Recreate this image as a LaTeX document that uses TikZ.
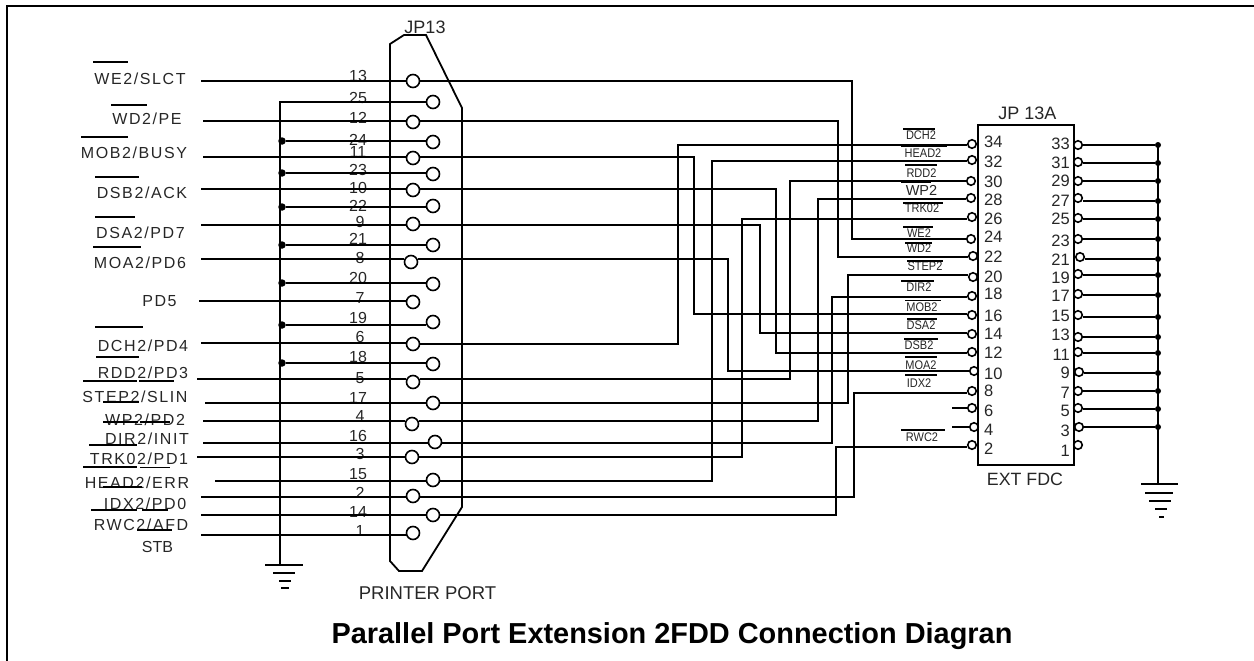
\documentclass[tikz,border=0pt]{standalone}
\usepackage{fontspec}
\setmainfont{Liberation Sans}
\newfontfamily\spaced[LetterSpace=10]{Liberation Sans}
\tikzset{
  wire/.style={line width=2pt,line cap=butt,line join=miter},
  barline/.style={line width=1.8pt},
  shell/.style={line width=1.8pt,line join=miter},
  bigpin/.style={circle,draw,line width=1.6pt,inner sep=0pt,minimum size=13pt,fill=white},
  smallpin/.style={circle,draw,line width=1.6pt,inner sep=0pt,minimum size=8.5pt,fill=white},
  joint/.style={circle,fill=black,inner sep=0pt,minimum size=7.5pt},
  num/.style={inner sep=0pt,font=\fontsize{16}{17}\selectfont,text=black!85},
  sig/.style={inner sep=0pt,font=\fontsize{16}{17}\selectfont\spaced,text=black!85},
  small/.style={inner sep=0pt,font=\fontsize{12.5}{13}\selectfont,text=black!85},
}
\newcommand{\route}[5]{\draw[wire] (#1.east |- 0,#2) -- (#3,#2) -- (#3,#4) -- (#5.west |- 0,#4);}
\begin{document}
\begin{tikzpicture}[x=1pt,y=-1pt]
\useasboundingbox (0,0) rectangle (1254,661);
% frame
\draw[line width=2.4pt] (7,661) -- (7,6) -- (1254,6);
% DB25 shell
\draw[shell] (390,44) -- (404,35) -- (426,35) -- (462,108) -- (462,507) -- (422,571) -- (399,571) -- (390,561) -- cycle;
\node[num,font=\fontsize{18}{19}\selectfont] (jp13) at (425,27) {JP13};
\node[num,font=\fontsize{18.5}{20}\selectfont] (pport) at (427.5,593) {PRINTER PORT};
\node[inner sep=0pt,font=\fontsize{28.9}{30}\bfseries\selectfont] (title) at (672,636) {Parallel Port Extension 2FDD Connection Diagran};
% left connector pins
\foreach \n/\x/\y/\lx/\ly in {13/413/81/358/76,25/433/102/358/98,12/413/122/358/118,24/433/142/358/140,11/413/158/358/152,23/433/174/358/170,10/413/190/358/188,22/433/206/358/206,9/413/224/360/222,21/433/245/358/239,8/411/262/360/258,20/433/284/358/278,7/413/302/360/298,19/433/322/358/318,6/413/344/360/337,18/433/364/358/357,5/413/382/360/378,17/433/403/358/398,4/412/424/360/416,16/435/442/358/436,3/412/457/360/454,15/433/480/358/474,2/413/496/360/493,14/433/515/358/512,1/413/533/360/531}{
  \node[bigpin] (L\n) at (\x,\y) {};
  \node[num] (Ln\n) at (\lx,\ly) {\n};
}
% left free ends
\foreach \n/\x/\y in {13/201/81,12/203/121,11/203/157,10/201/189,9/201/225,8/201/259,7/199/301,6/201/343,5/197/379,17/205/403,4/203/421,16/203/443,3/197/457,15/215/481,2/201/497,14/201/515,1/201/535}{
  \coordinate (a\n) at (\x,\y);
  \draw[wire] (a\n) -- (L\n.west |- a\n);
}
% ground bus left
\coordinate (gt) at (280,102);
\coordinate (gl) at (280,565);
\draw[wire] (L25.west |- gt) -- (gt) -- (gl);
\foreach \n/\y in {24/141,23/173,22/207,21/245,20/283,19/325,18/363}{
  \node[joint] (d\n) at (282,\y) {};
  \draw[wire] (d\n) -- (L\n.west |- d\n);
}
\foreach \a/\b/\y in {265/303/565,273/295/573,279/291/581,281/289/588}{
  \draw[wire] (\a,\y) -- (\b,\y);
}
% right connector pins, left column
\foreach \n/\x/\y/\ly in {34/972/144/142,32/972/160/161.5,30/971/181/181.5,28/971/198/199.5,26/972/217/219,24/971/239/237,22/973/256/257,20/973/277/277,18/972/296/294,16/972/315/316,14/972/334/334,12/972/352/353,10/974/371/373.5,8/972/391/391,6/972/408/411,4/974/427/429.5,2/972/445/449}{
  \node[smallpin] (R\n) at (\x,\y) {};
  \node[num,font=\fontsize{16.5}{17}\selectfont,anchor=west] (Rn\n) at (984,\ly) {\n};
}
% right connector box
\draw[wire] (978,125) rectangle (1074,465);
\node[num,font=\fontsize{18}{19}\selectfont] (jp13a) at (1027.5,113) {JP 13A};
\node[num,font=\fontsize{17.8}{19}\selectfont] (extfdc) at (1025,479) {EXT FDC};
% right column
\coordinate (gbt) at (1158,143);
\coordinate (gbb) at (1158,484);
\draw[wire] (gbt) -- (gbb);
\foreach \n/\x/\y/\ly/\wy in {33/1078/145/144/145,31/1078/162/163/163,29/1078/181/181/181,27/1078/198/201/201,25/1078/218/219/219,23/1078/239/241/239,21/1080/257/260/259,19/1078/274/278/275,17/1078/294/296/295,15/1078/315/316/317,13/1078/337/335/337,11/1078/352/355/353,9/1079/372/373/373,7/1078/391/393/391,5/1078/408/411/409,3/1079/427/431/427}{
  \node[smallpin] (R\n) at (\x,\y) {};
  \node[num,font=\fontsize{16.5}{17}\selectfont,anchor=east] (Rn\n) at (1070,\ly) {\n};
  \node[joint,minimum size=6pt] (e\n) at (1158,\wy) {};
  \draw[wire] (R\n.east |- e\n) -- (e\n);
}
\node[smallpin] (R1) at (1078,445) {};
\node[num,font=\fontsize{16.5}{17}\selectfont,anchor=east] (Rn1) at (1070,451) {1};
\foreach \a/\b/\y in {1141/1178/484,1145/1173/493,1149/1171/501,1155/1167/509,1159/1164/517}{
  \draw[wire] (\a,\y) -- (\b,\y);
}
% stubs for unused pins
\coordinate (s6) at (952,408);
\coordinate (s4) at (952,427);
\draw[wire] (s6) -- (R6.west);
\draw[wire] (s4) -- (R4.west);
% routed wires
\route{L13}{81}{852}{239}{R24}
\route{L12}{121}{838}{257}{R22}
\route{L11}{157}{694}{314}{R16}
\route{L10}{189}{776}{353}{R12}
\route{L9}{225}{760}{333}{R14}
\route{L8}{259}{728}{371}{R10}
\route{L6}{344}{678}{145}{R34}
\route{L5}{379}{790}{181}{R30}
\route{L17}{403}{848}{275}{R20}
\route{L4}{421}{818}{199}{R28}
\route{L16}{443}{832}{297}{R18}
\route{L3}{457}{742}{219}{R26}
\route{L15}{481}{712}{161}{R32}
\route{L2}{497}{854}{393}{R8}
\route{L14}{515}{836}{447}{R2}
% left signal names
\foreach \i/\t/\x/\y in {s1/WE2{/}SLCT/140/79,s2/WD2{/}PE/147/119,s3/MOB2{/}BUSY/134/153,s4/DSB2{/}ACK/142/193,s5/DSA2{/}PD7/140.5/233,s6/MOA2{/}PD6/140/263,s7/PD5/159.5/301,s8/DCH2{/}PD4/143/346,s9/RDD2{/}PD3/143/373,s10/STEP2{/}SLIN/135/397,s11/WP2{/}PD2/145/420,s12/DIR2{/}INIT/147/439,s13/TRK02{/}PD1/139/459,s14/HEAD2{/}ERR/137/483,s15/IDX2{/}PD0/145/504,s16/RWC2{/}AFD/141/525}{
  \node[sig] (\i) at (\x,\y) {\t};
}
\node[num] (s17) at (157.5,547) {STB};
% bars of the left signal names
\foreach \a/\b/\y in {93/128/62,111/147/105,81/128/137,95/139/177,95/135/217,93/141/247,95/143/327,96/139/357,83/137/381,139/174/381,103/139/402,103/138/422,140/170/422,89/137/445,83/137/467,140/170/467.5,103/142/487,91/137/510,142/168/510,137/172/530}{
  \draw[barline] (\a,\y) -- (\b,\y);
}
% right signal names
\foreach \i/\t/\x/\y in {t1/DCH2/921/135,t2/HEAD2/923/153,t3/RDD2/921.5/173,t5/TRK02/922/208.5,t6/WE2/919/233,t7/WD2/919/248,t8/STEP2/925/266,t9/DIR2/919/287.5,t10/MOB2/922/307,t11/DSA2/921/325,t12/DSB2/919/345,t13/MOA2/921/365,t14/IDX2/919/383,t15/RWC2/922/437}{
  \node[small] (\i) at (\x,\y) {\scalebox{.88}[1]{\t}};
}
\node[small,font=\fontsize{14.5}{15}\selectfont] (t4) at (921.5,190) {WP2};
\foreach \a/\b/\y in {903/935/129,901/947/146.5,905/937/165,901/931/182,903/943/203,903/933/227,905/932/243,907/943/261,901/934/281,905/941/300.5,907/937/319,904/938/339,905/937/357,905/937/375,901/945/430}{
  \draw[barline] (\a,\y) -- (\b,\y);
}
\end{tikzpicture}
\end{document}
